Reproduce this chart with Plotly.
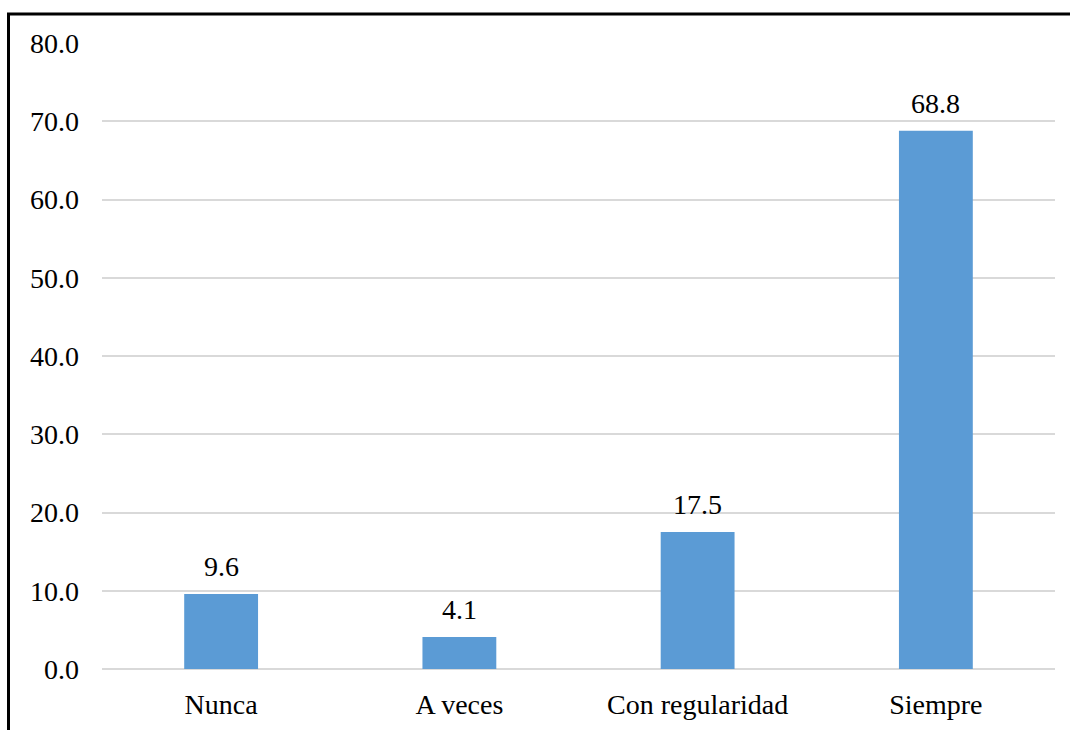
import plotly.graph_objects as go

categories = ["Nunca", "A veces", "Con regularidad", "Siempre"]
values = [9.6, 4.1, 17.5, 68.8]
value_labels = ["9.6", "4.1", "17.5", "68.8"]
tick_vals = [0, 10, 20, 30, 40, 50, 60, 70, 80]
tick_text = ["0.0", "10.0", "20.0", "30.0", "40.0", "50.0", "60.0", "70.0", "80.0"]

FONT = "Liberation Serif"

fig = go.Figure()
fig.add_trace(go.Bar(x=categories, y=values, marker=dict(color="#5B9BD5", line=dict(width=0)),
                     showlegend=False, hoverinfo="skip"))

for c, v, t in zip(categories, values, value_labels):
    fig.add_annotation(x=c, y=v, text=t, showarrow=False, yanchor="bottom",
                       yshift=10, font=dict(family=FONT, size=28, color="black"))

L, R, T, B = 102, 1070 - 1055, 43, 730 - 669
W, H = 1070 - L - R, 730 - T - B

def px_x(x):
    return (x - L) / W

def px_y(y):
    return (730 - B - y) / H

fig.add_shape(type="line", xref="paper", yref="paper", x0=px_x(8.5), x1=px_x(8.5),
              y0=px_y(14), y1=px_y(740), line=dict(color="black", width=3))
fig.add_shape(type="line", xref="paper", yref="paper", x0=px_x(7), x1=px_x(1080),
              y0=px_y(14), y1=px_y(14), line=dict(color="black", width=3))

fig.update_layout(
    width=1070, height=730,
    margin=dict(l=L, r=R, t=T, b=B, pad=0, autoexpand=False),
    paper_bgcolor="white", plot_bgcolor="white",
    bargap=0.69,
    font=dict(family=FONT, size=28, color="black"),
    xaxis=dict(showgrid=False, showline=False, ticks="", zeroline=False, automargin=False,
               tickfont=dict(family=FONT, size=28, color="black"), ticklabelstandoff=16),
    yaxis=dict(range=[0, 80], tickvals=tick_vals, ticktext=tick_text, automargin=False,
               showgrid=True, gridcolor="#D9D9D9", gridwidth=1.5,
               zeroline=True, zerolinecolor="#D9D9D9", zerolinewidth=1.5,
               showline=False, ticks="",
               tickfont=dict(family=FONT, size=28, color="black"), ticklabelstandoff=22),
)

fig.write_html("out.html", config={"displayModeBar": False},
               post_script="document.body.style.margin='0';document.body.style.overflow='hidden';")
